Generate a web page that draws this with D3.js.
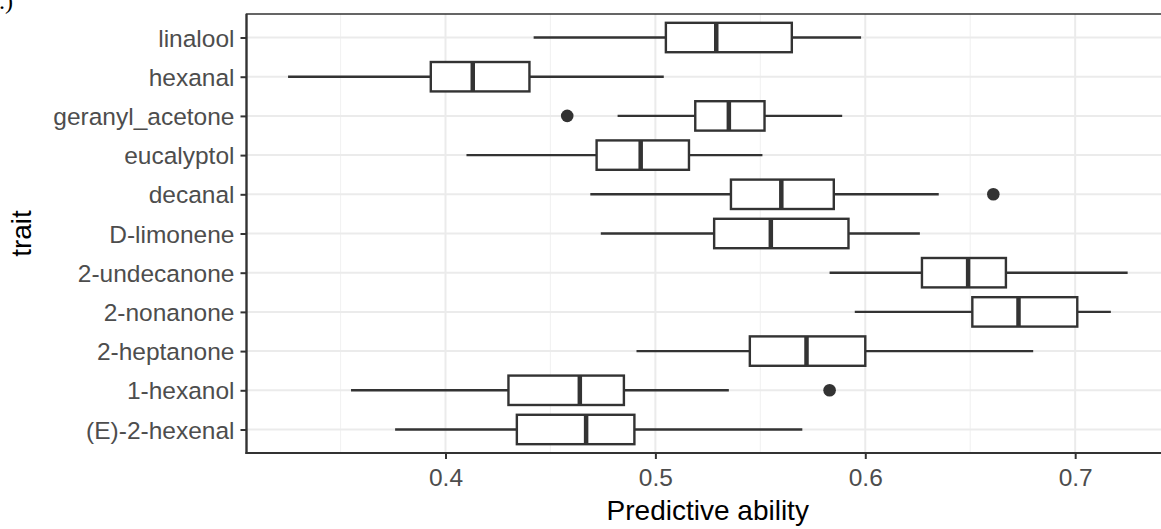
<!DOCTYPE html>
<html>
<head>
<meta charset="utf-8">
<script src="https://cdn.jsdelivr.net/npm/d3@7"></script>
<style>
  html, body { margin: 0; padding: 0; background: #fff; overflow: hidden; }
  text { font-family: "Liberation Sans", Arial, sans-serif; }
</style>
</head>
<body>
<div id="chart"></div>
<script>
// box statistics, top row first
var traits = ['linalool', 'hexanal', 'geranyl_acetone', 'eucalyptol', 'decanal', 'D-limonene',
  '2-undecanone', '2-nonanone', '2-heptanone', '1-hexanol', '(E)-2-hexenal'];
var whiskerLo = [0.442, 0.325, 0.482, 0.410, 0.469, 0.474, 0.583, 0.595, 0.491, 0.355, 0.376];
var q1        = [0.505, 0.393, 0.519, 0.472, 0.536, 0.528, 0.627, 0.651, 0.545, 0.430, 0.434];
var medians   = [0.529, 0.413, 0.535, 0.493, 0.560, 0.555, 0.649, 0.673, 0.572, 0.464, 0.467];
var q3        = [0.565, 0.440, 0.552, 0.516, 0.585, 0.592, 0.667, 0.701, 0.600, 0.485, 0.490];
var whiskerHi = [0.598, 0.504, 0.589, 0.551, 0.635, 0.626, 0.725, 0.717, 0.680, 0.535, 0.570];
var outTrait  = ['geranyl_acetone', 'decanal', '1-hexanol'];
var outValue  = [0.458, 0.661, 0.583];
var xTicks = [0.4, 0.5, 0.6, 0.7];
var xMinor = [0.35, 0.45, 0.55, 0.65];

var W = 1161, H = 529;
var pL = 246.5, pR = 1169, pT = 14, pB = 453;
var dark = '#333333';

var svg = d3.select('#chart').append('svg')
  .attr('width', W).attr('height', H)
  .attr('xmlns', 'http://www.w3.org/2000/svg');

var x = d3.scaleLinear().domain([0.3052, 0.7447]).range([pL, pR]);
var y = d3.scalePoint().domain(traits).range([pT, pB]).padding(0.6);
var boxH = y.step() * 0.75;

// grid
var grid = svg.append('g');
grid.selectAll('.minor').data(xMinor).enter().append('line')
  .attr('x1', d => x(d)).attr('x2', d => x(d)).attr('y1', pT).attr('y2', pB)
  .attr('stroke', '#F2F2F2').attr('stroke-width', 1.2);
grid.selectAll('.major').data(xTicks).enter().append('line')
  .attr('x1', d => x(d)).attr('x2', d => x(d)).attr('y1', pT).attr('y2', pB)
  .attr('stroke', '#EBEBEB').attr('stroke-width', 2);
grid.selectAll('.hmajor').data(traits).enter().append('line')
  .attr('x1', pL).attr('x2', pR).attr('y1', d => y(d)).attr('y2', d => y(d))
  .attr('stroke', '#EBEBEB').attr('stroke-width', 2);

// boxes
var rows = traits.map(function (t, i) {
  return { t: t, lo: whiskerLo[i], a: q1[i], m: medians[i], b: q3[i], hi: whiskerHi[i] };
});
var g = svg.append('g').selectAll('g').data(rows).enter().append('g');
g.append('line')
  .attr('x1', d => x(d.lo)).attr('x2', d => x(d.a)).attr('y1', d => y(d.t)).attr('y2', d => y(d.t))
  .attr('stroke', dark).attr('stroke-width', 2.4);
g.append('line')
  .attr('x1', d => x(d.b)).attr('x2', d => x(d.hi)).attr('y1', d => y(d.t)).attr('y2', d => y(d.t))
  .attr('stroke', dark).attr('stroke-width', 2.4);
g.append('rect')
  .attr('x', d => x(d.a)).attr('width', d => x(d.b) - x(d.a))
  .attr('y', d => y(d.t) - boxH / 2).attr('height', boxH)
  .attr('fill', '#fff').attr('stroke', dark).attr('stroke-width', 2.4);
g.append('line')
  .attr('x1', d => x(d.m)).attr('x2', d => x(d.m))
  .attr('y1', d => y(d.t) - boxH / 2).attr('y2', d => y(d.t) + boxH / 2)
  .attr('stroke', dark).attr('stroke-width', 4.5);

svg.append('g').selectAll('circle').data(outValue).enter().append('circle')
  .attr('cx', d => x(d)).attr('cy', (d, i) => y(outTrait[i])).attr('r', 6.3)
  .attr('fill', dark);

// panel border
svg.append('rect')
  .attr('x', pL).attr('y', pT).attr('width', pR - pL).attr('height', pB - pT)
  .attr('fill', 'none').attr('stroke', dark).attr('stroke-width', 1.5);
svg.append('line').attr('x1', pL).attr('x2', pL).attr('y1', pT).attr('y2', pB + 1)
  .attr('stroke', dark).attr('stroke-width', 2.2);
svg.append('line').attr('x1', pL - 1).attr('x2', pR).attr('y1', pB).attr('y2', pB)
  .attr('stroke', dark).attr('stroke-width', 2.2);

// axes
var xAxis = svg.append('g').attr('transform', 'translate(0,' + pB + ')')
  .call(d3.axisBottom(x).tickValues(xTicks).tickFormat(d3.format('.1f')).tickSize(6).tickPadding(10));
var yAxis = svg.append('g').attr('transform', 'translate(' + pL + ',0)')
  .call(d3.axisLeft(y).tickSize(6).tickPadding(6));
[xAxis, yAxis].forEach(function (a) {
  a.select('.domain').remove();
  a.selectAll('.tick line').attr('stroke', dark).attr('stroke-width', 2);
  a.selectAll('.tick text').attr('fill', '#4D4D4D').style('font-size', '24.5px')
    .style('font-family', '"Liberation Sans", Arial, sans-serif');
});
yAxis.selectAll('.tick text').attr('dy', '0.35em');

svg.append('text')
  .attr('x', (pL + pR) / 2).attr('y', 520)
  .attr('text-anchor', 'middle').attr('fill', '#000').style('font-size', '28px')
  .text('Predictive ability');
svg.append('text')
  .attr('transform', 'translate(31,' + ((pT + pB) / 2) + ') rotate(-90)')
  .attr('text-anchor', 'middle').attr('fill', '#000').style('font-size', '28px')
  .text('trait');

// cut-off panel tag in the corner
svg.append('text')
  .attr('x', -17).attr('y', 9)
  .attr('fill', '#000').style('font-family', '"Liberation Serif", serif').style('font-size', '24px')
  .text('B.)');
</script>
</body>
</html>
